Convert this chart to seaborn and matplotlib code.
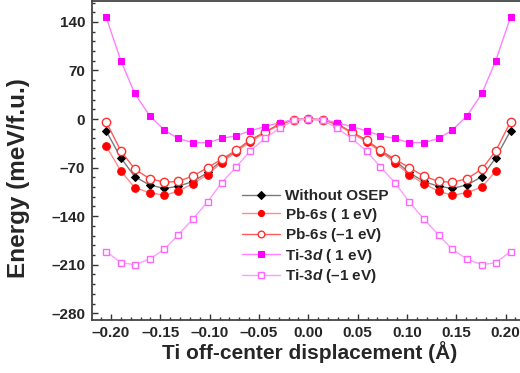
import numpy as np
import pandas as pd
import matplotlib
matplotlib.use("Agg")
import matplotlib.pyplot as plt
from matplotlib.ticker import MultipleLocator
import seaborn as sns

# Ti off-center displacement (Angstrom)
displacement = [-0.205, -0.190, -0.176, -0.161, -0.146, -0.132, -0.117, -0.102,
                -0.088, -0.073, -0.059, -0.044, -0.029, -0.015, 0.000,
                0.015, 0.029, 0.044, 0.059, 0.073, 0.088, 0.102, 0.117,
                0.132, 0.146, 0.161, 0.176, 0.190, 0.205]

# Energy (meV/f.u.) for each calculation
without_osep = [-17, -56, -83, -95, -100, -97, -90, -77, -60, -46, -31, -19, -7, -1, 0,
                -1, -7, -19, -31, -46, -60, -77, -90, -97, -100, -95, -83, -56, -17]
pb6s_plus = [-39, -75, -99, -106, -110, -104, -93, -80, -63, -47, -33, -20, -8, -1, 0,
             -1, -8, -20, -33, -47, -63, -80, -93, -104, -110, -106, -98, -75, np.nan]
pb6s_minus = [-4, -46, -72, -86, -91, -90, -82, -70, -58, -45, -30, -19, -7, -1, 0,
              -1, -7, -19, -30, -45, -58, -70, -82, -90, -91, -86, -72, -46, -4]
ti3d_plus = [147, 84, 37, 5, -16, -28, -34, -34, -28, -24, -17, -11, -5, -1, 0,
             -1, -5, -11, -17, -24, -28, -34, -34, -28, -16, 5, 37, 84, 147]
ti3d_minus = [-191, -207, -210, -202, -188, -167, -144, -119, -92, -69, -46, -28, -13, -2, 0,
              -2, -13, -28, -46, -69, -92, -119, -144, -167, -188, -202, -210, -207, -191]

series_labels = ["Without OSEP", "Pb-6$s$ ( 1 eV)", "Pb-6$s$ (\u20131 eV)",
                 "Ti-3$d$ ( 1 eV)", "Ti-3$d$ (\u20131 eV)"]

y_ticks = [140, 70, 0, -70, -140, -210, -280]
x_ticks = [-0.20, -0.15, -0.10, -0.05, 0.00, 0.05, 0.10, 0.15, 0.20]

sns.set_style("ticks")
plt.rcParams["font.family"] = ["Liberation Sans", "DejaVu Sans"]
plt.rcParams["font.weight"] = "bold"
plt.rcParams["mathtext.fontset"] = "custom"
plt.rcParams["mathtext.rm"] = "Liberation Sans:bold"
plt.rcParams["mathtext.it"] = "Liberation Sans:italic:bold"
plt.rcParams["mathtext.bf"] = "Liberation Sans:bold"

fig = plt.figure(figsize=(5.2, 3.73), dpi=100)
ax = fig.add_axes([0.1775, 0.1434, 0.8225, 0.8536])

styles = [
    dict(color="#7a7a7a", marker="D", markersize=4.5, markerfacecolor="black",
         markeredgecolor="black"),
    dict(color="#ff8c8c", marker="o", markersize=5.5, markerfacecolor="#ff0000",
         markeredgecolor="#ff0000"),
    dict(color="#ff5a5a", marker="o", markersize=6, markerfacecolor="white",
         markeredgecolor="#ff3030", markeredgewidth=1.0),
    dict(color="#ff80ff", marker="s", markersize=5, markerfacecolor="#ff00ff",
         markeredgecolor="#ff00ff"),
    dict(color="#ff9cff", marker="s", markersize=5, markerfacecolor="white",
         markeredgecolor="#ff66ff", markeredgewidth=1.0),
]
values = [without_osep, pb6s_plus, pb6s_minus, ti3d_plus, ti3d_minus]

order = [4, 3, 1, 0, 2]
for i in order:
    df = pd.DataFrame({"x": displacement, "y": values[i]}).dropna()
    sns.lineplot(data=df, x="x", y="y", ax=ax, linewidth=1.0, label=series_labels[i],
                 zorder=3 + i, **styles[i])

h, l = ax.get_legend_handles_labels()
hmap = dict(zip(l, h))
leg = ax.legend([hmap[s] for s in series_labels], series_labels,
                loc="upper left", bbox_to_anchor=(0.335, 0.428), frameon=False,
                fontsize=11, handlelength=2.5, handletextpad=0.35,
                labelspacing=0.16, borderaxespad=0, markerscale=0.8)

ax.set_xlim(-0.219, 0.2146)
ax.set_ylim(-289, 170)
ax.set_xticks(x_ticks)
ax.set_xticklabels([f"{v:.2f}".replace("-", "\u2013") for v in x_ticks])
ax.set_yticks(y_ticks)
ax.set_yticklabels([str(v).replace("-", "\u2013") for v in y_ticks])
ax.xaxis.set_minor_locator(MultipleLocator(0.01))
ax.yaxis.set_minor_locator(MultipleLocator(14))
ax.tick_params(which="both", direction="in", color="#333333", width=1.0,
               labelsize=11, top=False, right=False)
ax.tick_params(which="major", length=4.5, pad=5)
ax.tick_params(which="minor", length=2.5)
for lab in ax.get_xticklabels() + ax.get_yticklabels():
    lab.set_fontweight("bold")

for side in ["left", "bottom", "top"]:
    ax.spines[side].set_color("#444444")
    ax.spines[side].set_linewidth(1.3)
ax.spines["right"].set_visible(False)

ax.set_xlabel("Ti off-center displacement (\u00c5)", fontsize=15, fontweight="bold")
ax.set_ylabel("Energy (meV/f.u.)", fontsize=17.5, fontweight="bold")
ax.xaxis.set_label_coords(0.509, -0.066)
ax.yaxis.set_label_coords(-0.145, 0.445)
ax.xaxis.label.set_va("top")

fig.savefig("out.png", dpi=100)
